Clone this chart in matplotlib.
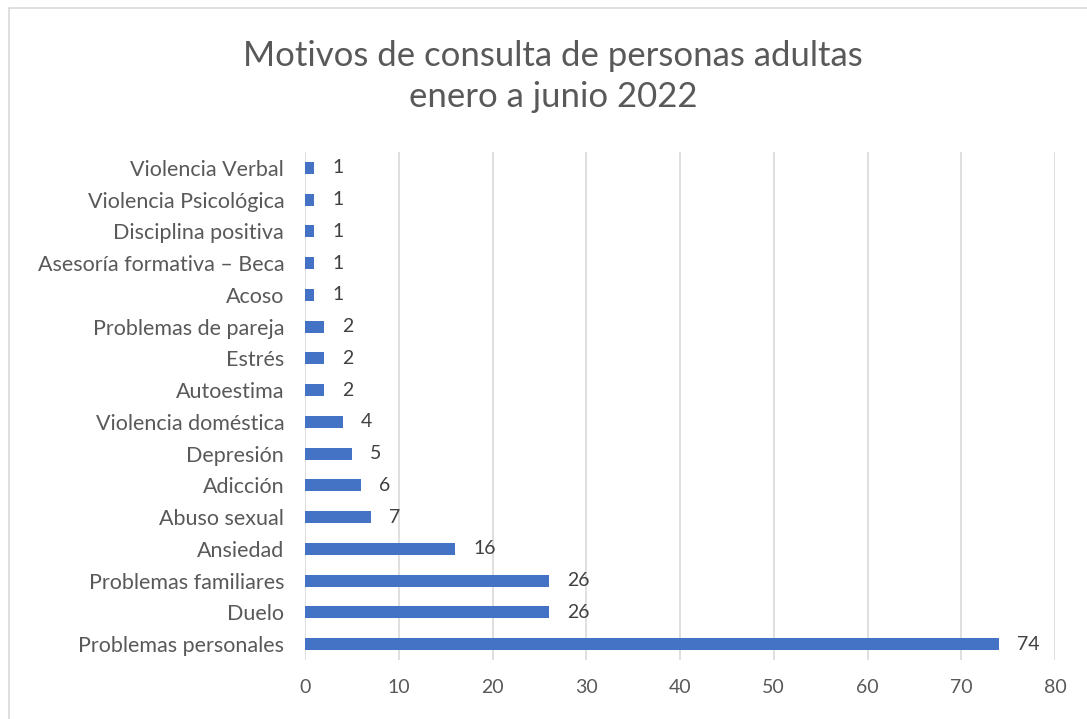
import matplotlib.pyplot as plt
from matplotlib.patches import Rectangle

categories = ["Problemas personales", "Duelo", "Problemas familiares", "Ansiedad",
              "Abuso sexual", "Adicción", "Depresión", "Violencia doméstica",
              "Autoestima", "Estrés", "Problemas de pareja", "Acoso",
              "Asesoría formativa – Beca", "Disciplina positiva",
              "Violencia Psicológica", "Violencia Verbal"]
values = [74, 26, 26, 16, 7, 6, 5, 4, 2, 2, 2, 1, 1, 1, 1, 1]
xticks = [0, 10, 20, 30, 40, 50, 60, 70, 80]

plt.rcParams['font.family'] = ['Lato', 'DejaVu Sans']
txt = '#595959'

fig = plt.figure(figsize=(10.87, 7.19), dpi=100)
fig.patches.append(Rectangle((0.008, -0.01), 1.0, 0.999, transform=fig.transFigure,
                             fill=False, edgecolor='#D9D9D9', linewidth=1.2))
ax = fig.add_axes([0.2806, 0.0821, 0.69, 0.7065])

pos = range(len(categories))
ax.barh(pos, values, height=0.38, color='#4472C4', zorder=3)
for p, v in zip(pos, values):
    ax.annotate(str(v), (v, p), xytext=(13, 0), textcoords='offset points',
                va='center', ha='left', fontsize=14, color='#404040')

ax.set_xlim(0, 80)
ax.set_ylim(-0.5, len(categories) - 0.5)
ax.set_xticks(xticks)
ax.set_yticks(list(pos))
ax.set_yticklabels(categories)
ax.grid(axis='x', color='#D9D9D9', linewidth=1.2, zorder=0)
for s in ax.spines.values():
    s.set_visible(False)
ax.tick_params(axis='both', length=0, labelsize=13, colors=txt)
ax.tick_params(axis='y', labelsize=15.5, pad=15)
ax.tick_params(axis='x', labelsize=14, pad=14)

fig.text(0.509, 0.893, "Motivos de consulta de personas adultas\nenero a junio 2022",
         ha='center', va='center', fontsize=25, color=txt, linespacing=1.35)

fig.savefig('out.png', dpi=100)
